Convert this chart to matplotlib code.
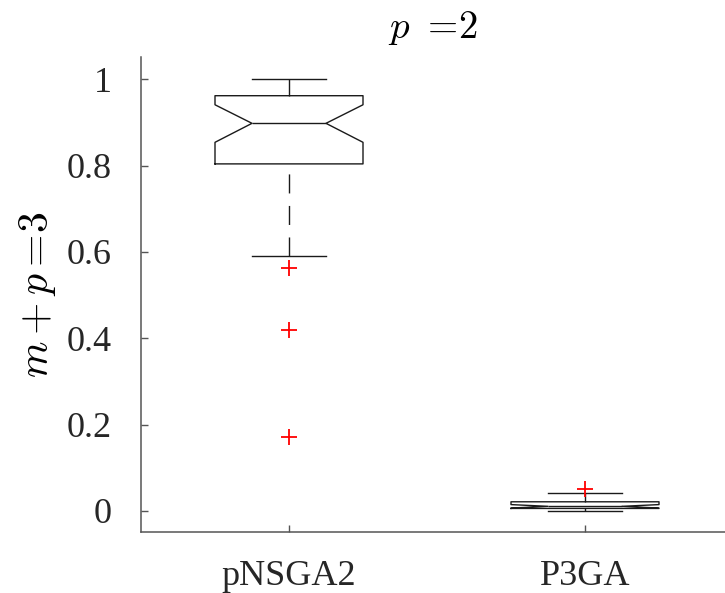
import matplotlib
matplotlib.use("Agg")
import matplotlib.pyplot as plt

plt.rcParams["font.family"] = ["Liberation Serif", "DejaVu Serif"]
plt.rcParams["mathtext.fontset"] = "cm"

# Summary statistics for each algorithm
algorithms = ["pNSGA2", "P3GA"]
q1_vals = [0.804, 0.0056]
median_vals = [0.898, 0.0105]
q3_vals = [0.962, 0.021]
whisker_low = [0.591, 0.0]
whisker_high = [1.0, 0.042]
notch_low = [0.854, 0.0065]
notch_high = [0.941, 0.0145]
outliers = [[0.562, 0.419, 0.172], [0.050]]

y_ticks = [0, 0.2, 0.4, 0.6, 0.8, 1]
y_tick_labels = ["0", "0.2", "0.4", "0.6", "0.8", "1"]

stats = []
for i, name in enumerate(algorithms):
    stats.append(dict(
        label=name,
        q1=q1_vals[i], med=median_vals[i], q3=q3_vals[i],
        whislo=whisker_low[i], whishi=whisker_high[i],
        cilo=notch_low[i], cihi=notch_high[i],
        fliers=outliers[i],
    ))

fig = plt.figure(figsize=(7.25, 5.93), dpi=100)
W, H = 725, 593
ax = fig.add_axes([141 / W, 1 - 532 / H, (725 - 141) / W, (532 - 57.3) / H])

line_col = "#1a1a1a"
positions = [1, 2]
ax.bxp(
    stats, positions=positions, widths=0.5, shownotches=True, showfliers=True,
    boxprops=dict(color=line_col, linewidth=1.0),
    medianprops=dict(color=line_col, linewidth=1.0),
    capprops=dict(color=line_col, linewidth=1.0),
    whiskerprops=dict(linestyle="none"),
    flierprops=dict(marker="+", markeredgecolor="red", markersize=11.5,
                    markeredgewidth=1.3, linestyle="none"),
)

# Dashed whiskers drawn from each cap toward the box
for pos, s in zip(positions, stats):
    for y_end, y_box in ((s["whislo"], s["q1"]), (s["whishi"], s["q3"])):
        ax.plot([pos, pos], [y_end, y_box], color=line_col, linewidth=1.0,
                linestyle=(0, (13.7, 9.0)), zorder=1)

ax.set_xlim(0.5, 0.5 + (725 - 141) / 296.0)
ax.set_ylim(-0.049, 1.051)
ax.set_xticks(positions)
ax.set_xticklabels(algorithms)
ax.set_yticks(y_ticks)
ax.set_yticklabels(y_tick_labels)

spine_col = "#555555"
for side in ("top", "right"):
    ax.spines[side].set_visible(False)
for side in ("left", "bottom"):
    ax.spines[side].set_color(spine_col)
    ax.spines[side].set_linewidth(1.1)
ax.tick_params(axis="both", direction="in", length=5, width=1.0,
               color=spine_col, labelsize=26, labelcolor="#262626")
ax.tick_params(axis="y", pad=21)
ax.tick_params(axis="x", pad=20)

ax.set_ylabel(r"$m+p=\!3$", fontsize=30, labelpad=6)
ax.set_title(r"$p\ =\!2$", fontsize=28, pad=14)

fig.savefig("out.png", dpi=100)
